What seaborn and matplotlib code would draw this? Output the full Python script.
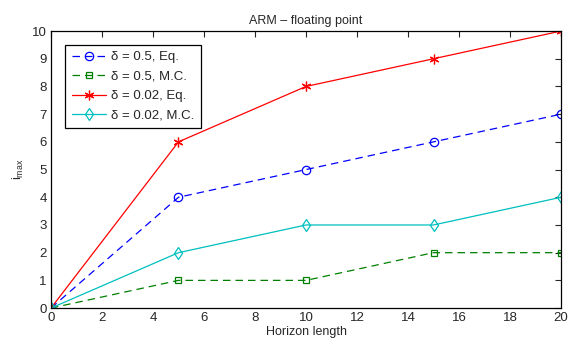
import pandas as pd
import seaborn as sns
import matplotlib
matplotlib.use('Agg')
import matplotlib.pyplot as plt

# data
horizon = [0, 5, 10, 15, 20]
eq_05 = [0, 4, 5, 6, 7]
mc_05 = [0, 1, 1, 2, 2]
eq_002 = [0, 6, 8, 9, 10]
mc_002 = [0, 2, 3, 3, 4]

labels = ['δ = 0.5, Eq.', 'δ = 0.5, M.C.', 'δ = 0.02, Eq.', 'δ = 0.02, M.C.']
series = [eq_05, mc_05, eq_002, mc_002]

sns.set_style('white')
plt.rcParams['font.family'] = ['Liberation Sans', 'DejaVu Sans']

fig = plt.figure(figsize=(5.79, 3.45), dpi=100)
ax = fig.add_axes([0.088, 0.107, 0.881, 0.803])

dash = (0, (6, 4))
styles = [
    dict(color='#0000ff', linestyle=dash, marker='o', markerfacecolor='none', markersize=6),
    dict(color='#008000', linestyle=dash, marker='s', markerfacecolor='none', markersize=5),
    dict(color='#ff0000', linestyle='-', marker=(6, 2, 0), markersize=7),
    dict(color='#00bfbf', linestyle='-', marker='d', markerfacecolor='none', markersize=6),
]

for vals, lab, st in zip(series, labels, styles):
    df = pd.DataFrame({'x': horizon, 'y': vals})
    sns.lineplot(data=df, x='x', y='y', ax=ax, label=lab, linewidth=0.9,
                 markeredgecolor=st['color'], markeredgewidth=0.9, **st)

ax.set_xlim(0, 20)
ax.set_ylim(0, 10)
ax.set_xticks(range(0, 21, 2))
ax.set_yticks(range(0, 11))
ax.tick_params(direction='in', top=True, right=True, length=4, width=0.8,
               labelsize=9.5, pad=3)
for s in ax.spines.values():
    s.set_linewidth(0.9)
    s.set_color('black')
ax.set_xlabel('Horizon length', fontsize=9, labelpad=1)
ax.set_ylabel('i$_{\\mathregular{max}}$', fontsize=9, labelpad=4)
ax.set_title('ARM – floating point', fontsize=9, pad=5)

leg = ax.legend(loc='upper left', bbox_to_anchor=(0.015, 0.975), fontsize=9.5,
                fancybox=False, framealpha=1, edgecolor='black',
                handlelength=2.6, handletextpad=0.4, borderpad=0.5,
                labelspacing=0.55)
leg.get_frame().set_linewidth(0.9)

fig.savefig('out.png', dpi=100)
